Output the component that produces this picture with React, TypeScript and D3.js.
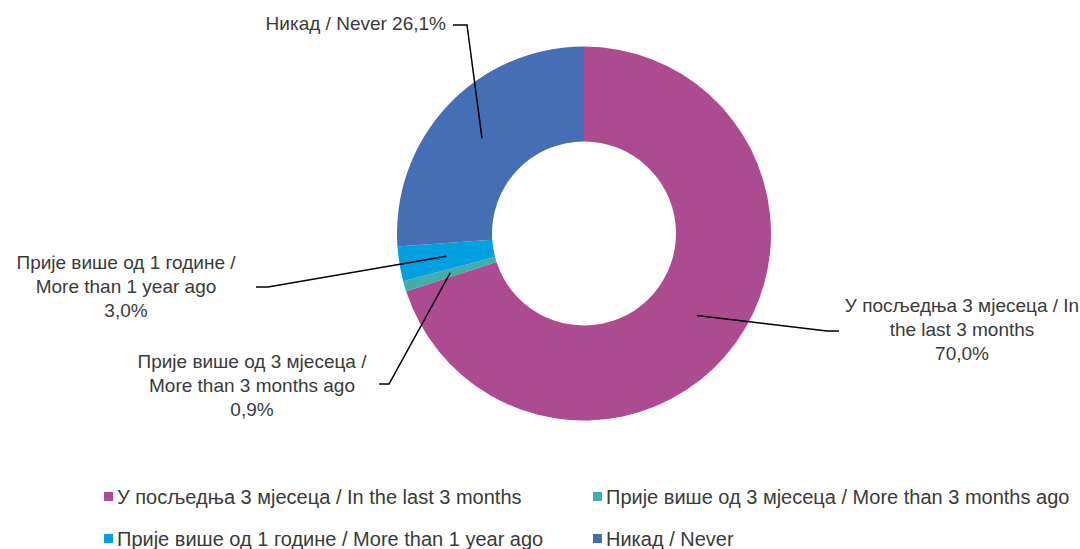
import * as d3 from 'd3';

const categories = [
  'У посљедња 3 мјесеца / In the last 3 months',
  'Прије више од 3 мјесеца / More than 3 months ago',
  'Прије више од 1 године / More than 1 year ago',
  'Никад / Never',
];
const values = [70.0, 0.9, 3.0, 26.1];
const colors = ['#AD4B91', '#40AEA9', '#00A0E1', '#466EB4'];

// label lines as they appear in the callouts
const labelLines = [
  ['У посљедња 3 мјесеца / In', 'the last 3 months', '70,0%'],
  ['Прије више од 3 мјесеца /', 'More than 3 months ago', '0,9%'],
  ['Прије више од 1 године /', 'More than 1 year ago', '3,0%'],
  ['Никад / Never 26,1%'],
];

const W = 1080;
const H = 549;
const cx = 584;
const cy = 233.5;
const outerR = 187;
const innerR = 92;
const FONT = "'Liberation Sans Narrow', 'Arial Narrow', sans-serif";
const textColor = '#3a3a3a';

// callout layout: elbow, end of line, text anchor position
const callouts = [
  { elbow: [827, 331], end: [839, 331], tx: 962, ty: 312, anchor: 'middle' },
  { elbow: [389, 384], end: [379, 384], tx: 252, ty: 368, anchor: 'middle' },
  { elbow: [268, 287], end: [256, 287], tx: 126, ty: 269, anchor: 'middle' },
  { elbow: [467, 25], end: [453, 25], tx: 446, ty: 30, anchor: 'end' },
];

export default function App() {
  const pie = d3.pie<number>().sort(null).value((d) => d)(values);
  const arc = d3.arc<d3.PieArcDatum<number>>().innerRadius(innerR).outerRadius(outerR);
  const midArc = d3
    .arc<d3.PieArcDatum<number>>()
    .innerRadius((innerR + outerR) / 2)
    .outerRadius((innerR + outerR) / 2);

  const line = d3.line();

  return (
    <svg width={W} height={H} style={{ position: 'absolute', left: 0, top: 0 }} fontFamily={FONT}>
      <rect width={W} height={H} fill="#fff" />
      <g transform={`translate(${cx},${cy})`}>
        {pie.map((p, i) => (
          <path key={i} d={arc(p) || ''} fill={colors[i]} />
        ))}
      </g>
      {pie.map((p, i) => {
        const c = midArc.centroid(p);
        const start: [number, number] = [cx + c[0], cy + c[1]];
        const co = callouts[i];
        return (
          <path
            key={'l' + i}
            d={line([start, co.elbow as [number, number], co.end as [number, number]]) || ''}
            fill="none"
            stroke="#000"
            strokeWidth={1.5}
          />
        );
      })}
      {callouts.map((co, i) => (
        <text key={'t' + i} x={co.tx} y={co.ty} textAnchor={co.anchor} fontSize={19} fill={textColor}>
          {labelLines[i].map((s, j) => (
            <tspan key={j} x={co.tx} dy={j === 0 ? 0 : 24}>
              {s}
            </tspan>
          ))}
        </text>
      ))}
      {categories.map((c, i) => {
        const lx = i % 2 === 0 ? 104 : 593;
        const ly = i < 2 ? 497 : 539;
        return (
          <g key={'g' + i}>
            <rect x={lx} y={ly - 5} width={9} height={9} fill={colors[i]} />
            <text x={lx + 13} y={ly + 7} fontSize={20} fill={textColor}>
              {c}
            </text>
          </g>
        );
      })}
    </svg>
  );
}
